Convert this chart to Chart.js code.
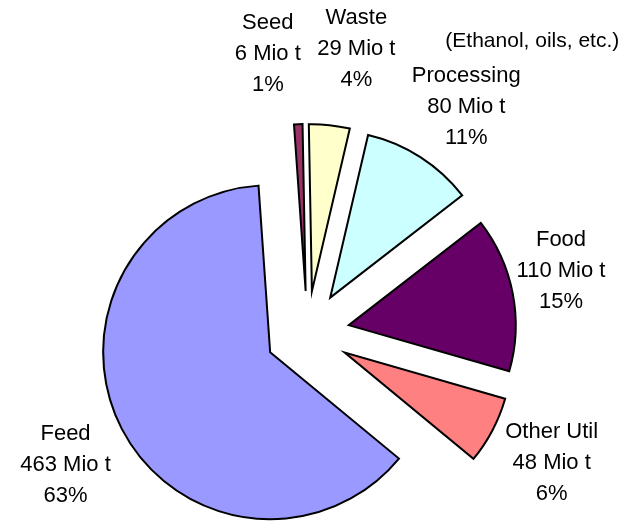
<!DOCTYPE html>
<html>
<head>
<meta charset="utf-8">
<title>Grain utilisation</title>
<script src="https://cdn.jsdelivr.net/npm/chart.js@4/dist/chart.umd.min.js"></script>
<style>
  html, body { margin: 0; padding: 0; background: #fff; }
  #wrap { width: 631px; height: 523px; position: relative; }
</style>
</head>
<body>
<div id="wrap"><canvas id="chart"></canvas></div>
<script>
// ---- data (million tonnes) ----
const categories = ['Seed', 'Waste', 'Processing', 'Food', 'Other Util', 'Feed'];
const tonnes     = [6, 29, 80, 110, 48, 463];
const shares     = [1, 4, 11, 15, 6, 63];          // percent, as printed
const processingNote = '(Ethanol, oils, etc.)';

// ---- look ----
const sliceColors = ['#993366', '#FFFFCC', '#CCFFFF', '#660066', '#FF8080', '#9999FF'];
const EXPLODE    = 42;    // px every slice is pulled out
const LABEL_GAP  = 10;
const LINE       = 31;
const FONT       = '22px "Liberation Sans", Arial, sans-serif';
const NOTE_FONT  = '21px "Liberation Sans", Arial, sans-serif';
// small hand tweaks so the crowded labels at the top don't collide
const labelNudge = [[-28, -16], [21, -22], [11, 2], [-6, -14], [4, 1], [-2, 6]];

// pull every arc outwards along its bisector
const explodeSlices = {
  id: 'explodeSlices',
  afterDatasetUpdate(chart, args) {
    args.meta.data.forEach(arc => {
      const mid = (arc.startAngle + arc.endAngle) / 2;
      arc.x += Math.cos(mid) * EXPLODE;
      arc.y += Math.sin(mid) * EXPLODE;
    });
  }
};

// three-line labels outside each slice
const sliceLabels = {
  id: 'sliceLabels',
  afterDatasetsDraw(chart) {
    const ctx = chart.ctx;
    const arcs = chart.getDatasetMeta(0).data;
    ctx.save();
    ctx.fillStyle = '#000';
    ctx.textAlign = 'center';
    ctx.textBaseline = 'alphabetic';
    arcs.forEach((arc, i) => {
      ctx.font = FONT;
      const lines = [categories[i], tonnes[i] + ' Mio t', shares[i] + '%'];
      const mid = (arc.startAngle + arc.endAngle) / 2;
      const dx = Math.cos(mid), dy = Math.sin(mid);
      const hw = Math.max(...lines.map(l => ctx.measureText(l).width)) / 2;
      const hh = 46;
      const t = Math.min(hw / Math.abs(dx || 1e-6), hh / Math.abs(dy || 1e-6));
      const d = arc.outerRadius + LABEL_GAP + t;
      const x = arc.x + dx * d + labelNudge[i][0];
      const y = arc.y + dy * d + labelNudge[i][1];
      lines.forEach((l, k) => ctx.fillText(l, x, y + 8 + (k - 1) * LINE));
      if (categories[i] === 'Processing') {
        ctx.font = NOTE_FONT;
        ctx.fillText(processingNote, x + 66, y - 58);
      }
    });
    ctx.restore();
  }
};

new Chart(document.getElementById('chart'), {
  type: 'pie',
  data: {
    labels: categories,
    datasets: [{
      data: tonnes,
      backgroundColor: sliceColors,
      borderColor: '#000',
      borderWidth: 2,
      borderJoinStyle: 'miter',
      rotation: -4,
      radius: 167,
      clip: false
    }]
  },
  options: {
    responsive: true,
    maintainAspectRatio: false,
    animation: false,
    events: [],
    layout: { padding: { left: 0, right: 16, top: 143, bottom: 0 } },
    plugins: {
      legend: { display: false },
      tooltip: { enabled: false }
    }
  },
  plugins: [explodeSlices, sliceLabels]
});
</script>
</body>
</html>
